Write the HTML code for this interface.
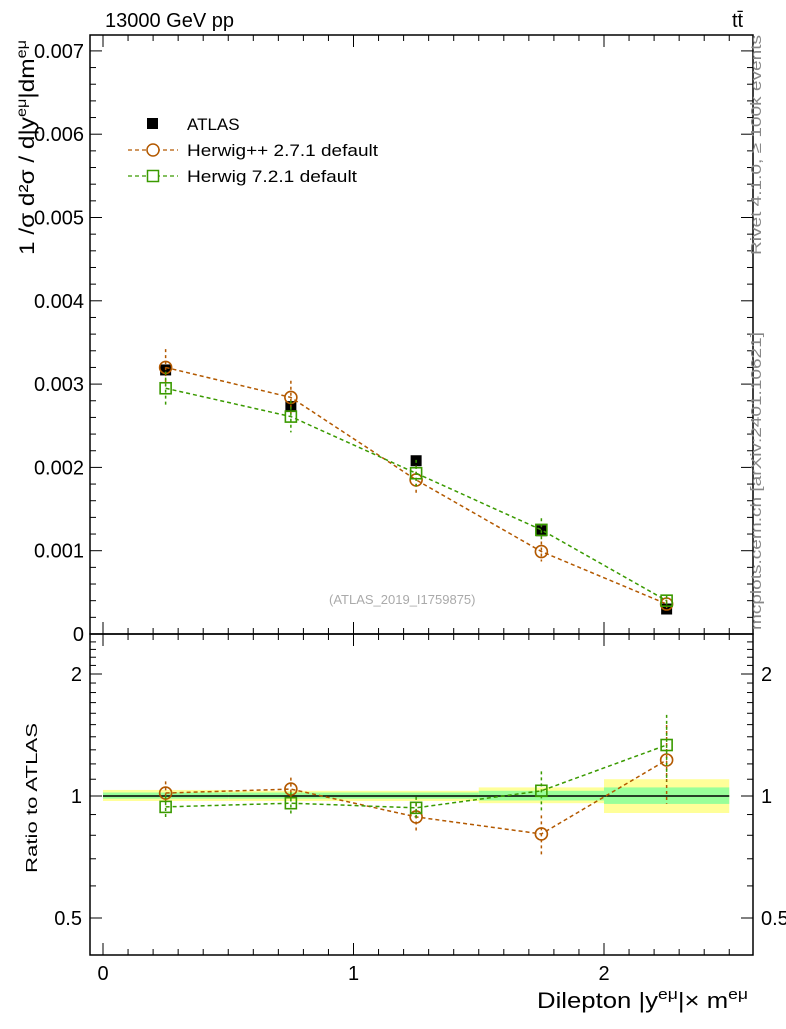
<!DOCTYPE html>
<html><head><meta charset="utf-8"><style>
body{margin:0;background:#fff;width:786px;height:1024px;overflow:hidden}
svg text{font-family:"Liberation Sans",sans-serif}
</style></head><body>
<svg id="c" width="786" height="1024" xmlns="http://www.w3.org/2000/svg">
<g id="bands"></g>
<g id="marks"></g>
<g id="axes"></g>
<text x="105" y="27" font-size="20">13000 GeV pp</text>
<text x="732" y="27" font-size="20">tt̄</text>
<text x="329" y="604" font-size="13" fill="#aaa">(ATLAS_2019_I1759875)</text>
<text transform="translate(761,255) rotate(-90)" font-size="15" fill="#888" textLength="220" lengthAdjust="spacingAndGlyphs">Rivet 4.1.0, ≥ 100k events</text>
<text transform="translate(761,630) rotate(-90)" font-size="15" fill="#888" textLength="298" lengthAdjust="spacingAndGlyphs">mcplots.cern.ch [arXiv:2401.10621]</text>
<text transform="translate(34,255) rotate(-90)" font-size="21" textLength="215" lengthAdjust="spacingAndGlyphs">1 /σ  d²σ / d|y<tspan font-size="14" dy="-8">eμ</tspan><tspan dy="8">|dm</tspan><tspan font-size="14" dy="-8">eμ</tspan></text>
<text transform="translate(37,873) rotate(-90)" font-size="16" textLength="150" lengthAdjust="spacingAndGlyphs">Ratio to ATLAS</text>
<text x="537" y="1008" font-size="22" textLength="211" lengthAdjust="spacingAndGlyphs">Dilepton |y<tspan font-size="15" dy="-9">eμ</tspan><tspan dy="9">|× m</tspan><tspan font-size="15" dy="-9">eμ</tspan></text>
<g>
<rect x="147" y="118" width="11" height="11" fill="#000"/>
<text x="187" y="130" font-size="17">ATLAS</text>
<line x1="128" y1="150" x2="178" y2="150" stroke="#b35900" stroke-dasharray="4,3" stroke-width="1.3"/>
<circle cx="153" cy="150" r="6" fill="#fff" stroke="#b35900" stroke-width="1.5"/>
<text x="187" y="156" font-size="17" textLength="191" lengthAdjust="spacingAndGlyphs">Herwig++ 2.7.1 default</text>
<line x1="128" y1="176" x2="178" y2="176" stroke="#3a9a00" stroke-dasharray="4,3" stroke-width="1.3"/>
<rect x="147.5" y="170.5" width="11" height="11" fill="#fff" stroke="#3a9a00" stroke-width="1.5"/>
<text x="187" y="182" font-size="17" textLength="170" lengthAdjust="spacingAndGlyphs">Herwig 7.2.1 default</text>
</g>
</svg>
<script>
const binEdges=[0,0.5,1,1.5,2,2.5];
const atlas=[0.00317,0.00273,0.00208,0.00124,0.00030];
const hpp=[0.00320,0.00284,0.00185,0.00099,0.00036];
const hppErr=[0.00022,0.00020,0.00017,0.00012,0.00005];
const h7=[0.00295,0.00261,0.00193,0.00125,0.00040];
const h7Err=[0.00020,0.00019,0.00016,0.00014,0.00006];
const hppRatio=[1.017,1.04,0.888,0.806,1.227];
const hppRatioErr=[0.07,0.07,0.07,0.09,0.27];
const h7Ratio=[0.94,0.96,0.935,1.03,1.336];
const h7RatioErr=[0.06,0.06,0.06,0.12,0.25];
const bandYellowLo=[0.972,0.972,0.972,0.96,0.908];
const bandYellowHi=[1.035,1.03,1.03,1.05,1.10];
const bandGreenLo=[0.985,0.985,0.985,0.975,0.956];
const bandGreenHi=[1.02,1.02,1.02,1.03,1.05];
const mainTicks=[0,0.001,0.002,0.003,0.004,0.005,0.006,0.007];
const mainTickLabels=["0","0.001","0.002","0.003","0.004","0.005","0.006","0.007"];
const ratioTicks=[0.5,1,2];
const ratioTickLabels=["0.5","1","2"];
const xTicks=[0,1,2];
const xTickLabels=["0","1","2"];

const NS="http://www.w3.org/2000/svg";
const X=v=>103+v*250.5;
const Y=v=>634-v*83300;
const R=v=>796-Math.log2(v)*122;
const L=90,Rt=753,T=35,M=634,B=955;
function mk(p,tag,a){const e=document.createElementNS(NS,tag);for(const k in a)e.setAttribute(k,a[k]);p.appendChild(e);return e;}
const bands=document.getElementById('bands'),marks=document.getElementById('marks'),axes=document.getElementById('axes');
for(let i=0;i<5;i++){
 let e=mk(bands,'rect',{x:X(binEdges[i]),width:X(binEdges[i+1])-X(binEdges[i]),y:R(bandYellowHi[i]),height:R(bandYellowLo[i])-R(bandYellowHi[i]),fill:'#ffff99'});
 
 
 e=mk(bands,'rect',{x:X(binEdges[i]),width:X(binEdges[i+1])-X(binEdges[i]),y:R(bandGreenHi[i]),height:R(bandGreenLo[i])-R(bandGreenHi[i]),fill:'#99ff99'});
 
 
}
let ln=mk(bands,'line',{x1:X(0),x2:X(2.5),y1:R(1),y2:R(1),stroke:'#000','stroke-width':1.5});


const mid=i=>(binEdges[i]+binEdges[i+1])/2;
function series(vals,errs,fy,col,shape,name){
 const pts=vals.map((v,i)=>X(mid(i))+','+fy(v)).join(' ');
 let p=mk(marks,'polyline',{points:pts,fill:'none',stroke:col,'stroke-dasharray':'4,3','stroke-width':1.5});
 
 
 vals.forEach((v,i)=>{
  const x=X(mid(i));
  let e=mk(marks,'line',{x1:x,x2:x,y1:fy(v+errs[i]),y2:fy(Math.max(v-errs[i],1e-6)),stroke:col,'stroke-dasharray':'3,3','stroke-width':1.5});
  
  
  if(shape==='c') e=mk(marks,'circle',{cx:x,cy:fy(v),r:6,fill:'none',stroke:col,'stroke-width':1.6});
  else e=mk(marks,'rect',{x:x-5.5,y:fy(v)-5.5,width:11,height:11,fill:'none',stroke:col,'stroke-width':1.6});
  
  
 });
}
atlas.forEach((v,i)=>{
 const e=mk(marks,'rect',{x:X(mid(i))-5.5,y:Y(v)-5.5,width:11,height:11,fill:'#000'});
 
 
});
series(hpp,hppErr,Y,'#b35900','c','herwigpp');
series(h7,h7Err,Y,'#3a9a00','s','herwig7');
series(hppRatio,hppRatioErr,R,'#b35900','c','herwigpp-ratio');
series(h7Ratio,h7RatioErr,R,'#3a9a00','s','herwig7-ratio');
mk(axes,'rect',{x:L,y:T,width:Rt-L,height:M-T,fill:'none',stroke:'#000','stroke-width':1.5});
mk(axes,'rect',{x:L,y:M,width:Rt-L,height:B-M,fill:'none',stroke:'#000','stroke-width':1.5});
const tk=(x1,y1,x2,y2)=>mk(axes,'line',{x1,y1,x2,y2,stroke:'#000','stroke-width':1});
const tx=(x,y,s,fs,anc)=>{const t=mk(axes,'text',{x,y,'font-size':fs,'text-anchor':anc});t.textContent=s;};
mainTicks.forEach((v,i)=>{const y=Y(v);tk(L,y,L+12,y);tk(Rt,y,Rt-12,y);tx(L-6,y+7,mainTickLabels[i],20,'end');
 if(i<7)for(let k=1;k<5;k++){const yy=Y(v+k*0.0002);tk(L,yy,L+6,yy);tk(Rt,yy,Rt-6,yy);}});
ratioTicks.forEach((v,i)=>{const y=R(v);tk(L,y,L+12,y);tk(Rt,y,Rt-12,y);tx(L-8,y+7,ratioTickLabels[i],20,'end');tx(Rt+8,y+7,ratioTickLabels[i],20,'start');});
for(let v=0.5;v<2.55;v+=0.1){const y=R(v);if(y>M+1&&y<B-1){tk(L,y,L+6,y);tk(Rt,y,Rt-6,y);}}
xTicks.forEach((v,i)=>{const x=X(v);tk(x,B,x,B-12);tk(x,M,x,M-12);tk(x,T,x,T+12);tk(x,M,x,M+12);tx(x,B+25,xTickLabels[i],20,'middle');});
for(let v=-0.0;v<2.6;v+=0.1){const x=X(v);if(x>L&&x<Rt){tk(x,B,x,B-6);tk(x,T,x,T+6);tk(x,M,x,M-6);tk(x,M,x,M+6);}}
</script>
</body></html>
